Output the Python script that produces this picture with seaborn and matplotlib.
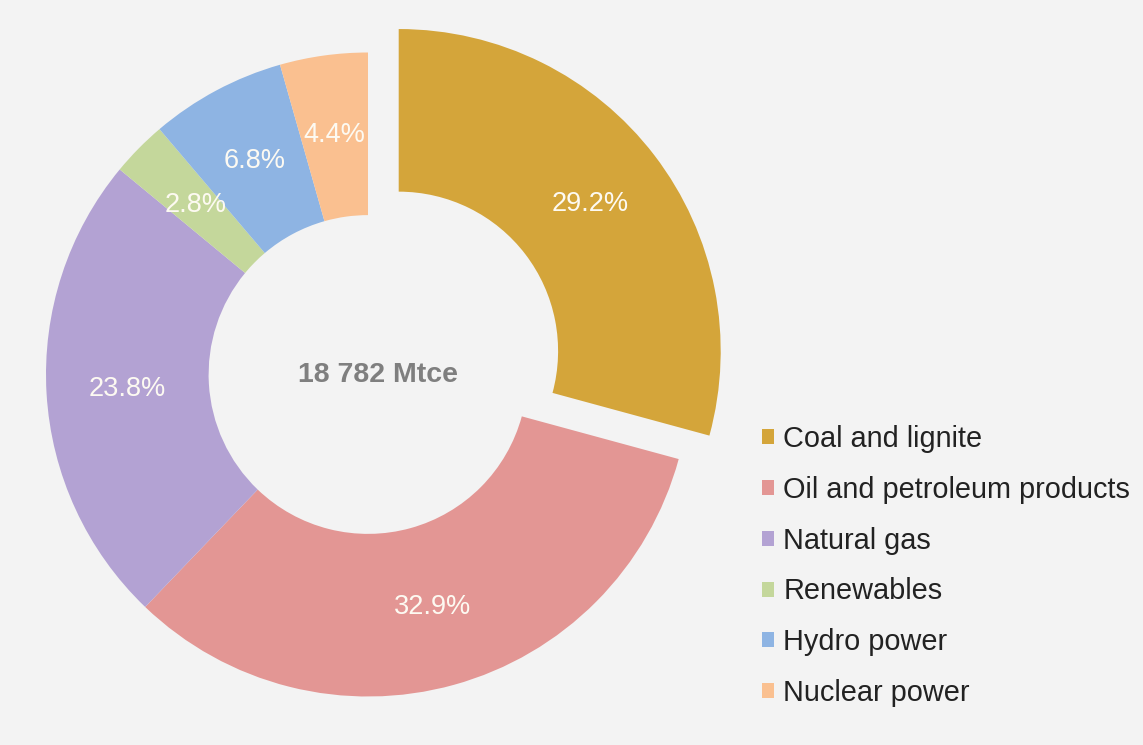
import matplotlib
matplotlib.use("Agg")
import matplotlib.pyplot as plt
import seaborn as sns

categories = ["Coal and lignite", "Oil and petroleum products", "Natural gas",
              "Renewables", "Hydro power", "Nuclear power"]
shares = [29.2, 32.9, 23.8, 2.8, 6.8, 4.4]
explode = [0.12, 0, 0, 0, 0, 0]
colors = ["#D4A53A", "#E39694", "#B3A2D3", "#C4D79B", "#8EB4E3", "#FAC090"]
center_label = "18 782 Mtce"

sns.set_theme(style="white")
plt.rcParams["font.family"] = ["Liberation Sans", "DejaVu Sans"]

W, H = 1143, 745
fig = plt.figure(figsize=(W / 100, H / 100), dpi=100)
bg = "#f3f3f3"
fig.patch.set_facecolor(bg)
ax = fig.add_axes([0, 0, 1, 1])
ax.set_facecolor(bg)

wedges, texts, autotexts = ax.pie(
    shares, explode=explode, colors=sns.color_palette(colors),
    startangle=90, counterclock=False, autopct="%.1f%%",
    pctdistance=0.75, wedgeprops=dict(width=0.505, linewidth=0),
    textprops=dict(color="#fdfaf2", fontsize=19.5))

ax.text(0.03, 0.0, center_label, ha="center", va="center",
        fontsize=20.5, fontweight="bold", color="#7f7f7f")

# map data units to pixels: radius 1 = 322 px, centre at (368, 374.5) from top
R = 322.0
cx, cy = 368.0, 374.5
ax.set_xlim(-cx / R, (W - cx) / R)
ax.set_ylim(-(H - cy) / R, cy / R)
ax.set_aspect("auto")
ax.axis("off")

leg = fig.legend(wedges, categories, loc="upper left",
                 bbox_to_anchor=(762 / W, 1 - 425 / H),
                 bbox_transform=fig.transFigure, frameon=False,
                 fontsize=20.8, handlelength=0.42, handleheight=0.42,
                 handletextpad=0.32, labelspacing=0.79, borderpad=0,
                 borderaxespad=0)
for t in leg.get_texts():
    t.set_color("#222222")

fig.savefig("out.png", dpi=100, facecolor=bg)
